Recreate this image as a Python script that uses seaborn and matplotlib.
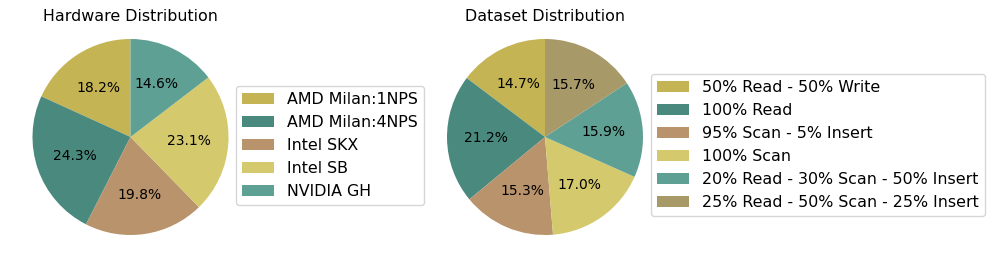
import matplotlib
matplotlib.use("Agg")
import matplotlib.pyplot as plt
import seaborn as sns

sns.set_style("white")
plt.rcParams['font.family'] = ['DejaVu Sans']
plt.rcParams['text.color'] = 'black'

# Data
hw_labels = ["AMD Milan:1NPS", "AMD Milan:4NPS", "Intel SKX", "Intel SB", "NVIDIA GH"]
hw_values = [18.2, 24.3, 19.8, 23.1, 14.6]

ds_labels = ["50% Read - 50% Write", "100% Read", "95% Scan - 5% Insert",
             "100% Scan", "20% Read - 30% Scan - 50% Insert",
             "25% Read - 50% Scan - 25% Insert"]
ds_values = [14.7, 21.2, 15.3, 17.0, 15.9, 15.7]

colors = ["#c4b454", "#4a8a7e", "#b8936c", "#d4c96c", "#5fa094", "#a89968"]

W, H = 996, 268
fig = plt.figure(figsize=(W / 100, H / 100), dpi=100)

def pie_panel(cx, cy, r, values, labels, title, leg_x, leg_y):
    ax = fig.add_axes([(cx - r) / W, 1 - (cy + r) / H, 2 * r / W, 2 * r / H])
    wedges, _, autotexts = ax.pie(values, colors=colors[:len(values)],
                                  startangle=90, counterclock=True,
                                  autopct="%1.1f%%", pctdistance=0.6,
                                  wedgeprops={"linewidth": 0, "edgecolor": "none"},
                                  textprops={"fontsize": 10, "color": "black"})
    ax.set_xlim(-1, 1)
    ax.set_ylim(-1, 1)
    ax.set_aspect("equal")
    ax.set_title(title, fontsize=11.4, pad=13, color="black")
    fig.legend(wedges, labels, loc="center left",
               bbox_to_anchor=(leg_x / W, 1 - leg_y / H),
               bbox_transform=fig.transFigure, borderaxespad=0,
               fontsize=11.4, frameon=True, handlelength=2.0)
    return ax

pie_panel(130.5, 137, 98, hw_values, hw_labels, "Hardware Distribution", 236, 145.5)
pie_panel(545, 137, 98, ds_values, ds_labels, "Dataset Distribution", 651, 145)

plt.savefig("out.png", dpi=100)
